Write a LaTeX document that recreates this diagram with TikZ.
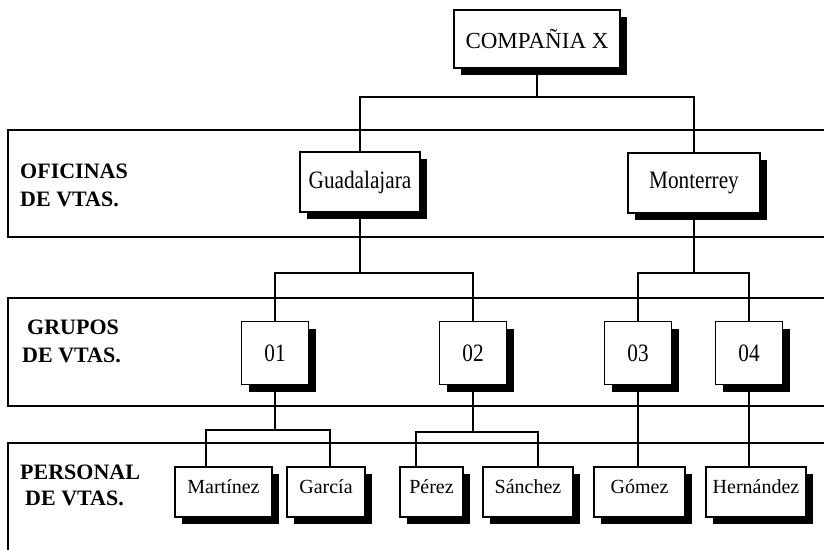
\documentclass[tikz,border=0pt]{standalone}
\usepackage{fontspec}
\setmainfont{Liberation Serif}
\newfontfamily\narrowserif[FakeStretch=0.85]{Liberation Serif}
\usetikzlibrary{shadows}
\begin{document}
\begin{tikzpicture}[x=1pt,y=-1pt,
  band/.style={draw,line width=1.7pt},
  link/.style={line width=1.7pt},
  unit/.style={draw,fill=white,line width=1.7pt,inner sep=0pt,
    drop shadow={shadow xshift=7pt,shadow yshift=-7pt,fill=black,opacity=1}},
  boss/.style={unit,minimum width=166pt,minimum height=58pt,font=\fontsize{23}{27}\selectfont},
  office/.style={unit,minimum height=60pt,font=\narrowserif\fontsize{25}{29}\selectfont},
  group/.style={unit,minimum width=67pt,minimum height=63pt,font=\narrowserif\fontsize{25}{29}\selectfont},
  person/.style={unit,minimum height=50pt,text height=14pt,text depth=12pt,font=\fontsize{20}{24}\selectfont},
  tier/.style={font=\bfseries\fontsize{22}{26}\selectfont,anchor=base west,inner sep=0pt}
]
\useasboundingbox (0,0) rectangle (824,549);
\fill[white] (0,0) rectangle (824,549);
\clip (0,0) rectangle (824,549);

% level bands
\draw[band] (8,130) rectangle (850,237);
\draw[band] (8,298) rectangle (850,406);
\draw[band] (8,443) rectangle (850,580);

% level titles
\node[tier] (ofi1) at (20,178) {OFICINAS};
\node[tier] (ofi2) at (20,206) {DE VTAS.};
\node[tier] (gru1) at (27,334) {GRUPOS};
\node[tier] (gru2) at (22,362) {DE VTAS.};
\node[tier] (per1) at (20,479) {PERSONAL};
\node[tier] (per2) at (25,505) {DE VTAS.};

% boxes
\node[boss] (comp) at (537,39) {COMPAÑIA X};
\node[office,minimum width=120pt] (guad) at (360,182) {Guadalajara};
\node[office,minimum width=132pt] (mont) at (694,183) {Monterrey};

\node[group] (g01) at (275,353) {01};
\node[group] (g02) at (473,353) {02};
\node[group] (g03) at (638,353) {03};
\node[group] (g04) at (749,353) {04};

\node[person,minimum width=97pt] (mart) at (223.5,492) {Martínez};
\node[person,minimum width=78pt] (garc) at (326,492) {García};
\node[person,minimum width=63pt] (pere) at (431.5,492) {Pérez};
\node[person,minimum width=90pt] (sanc) at (528,492) {Sánchez};
\node[person,minimum width=91pt] (gome) at (639.5,492) {Gómez};
\node[person,minimum width=100pt] (hern) at (756,492) {Hernández};

% junction points
\coordinate (j1) at (comp.south |- 0,97);
\coordinate (j2) at (guad.south |- 0,273);
\coordinate (j3) at (mont.south |- 0,273);
\coordinate (j4) at (g01.south |- 0,430);
\coordinate (j5) at (g02.south |- 0,432);

% connectors
\draw[link] (comp.south) -- (j1);
\draw[link] (guad.north) |- (j1) -| (mont.north);
\draw[link] (guad.south) -- (j2);
\draw[link] (g01.north) |- (j2) -| (g02.north);
\draw[link] (mont.south) -- (j3);
\draw[link] (g03.north) |- (j3) -| (g04.north);
\draw[link] (g01.south) -- (j4);
\draw[link] ([xshift=-17.5pt]mart.north) |- (j4) -| ([xshift=4pt]garc.north);
\draw[link] (g02.south) -- (j5);
\draw[link] ([xshift=-15.5pt]pere.north) |- (j5) -| ([xshift=10pt]sanc.north);
\draw[link] (g03.south) -- (g03.south |- gome.north);
\draw[link] (g04.south) -- (g04.south |- hern.north);
\end{tikzpicture}
\end{document}
